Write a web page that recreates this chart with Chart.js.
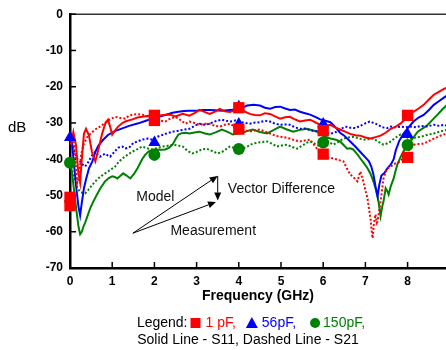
<!DOCTYPE html>
<html><head><meta charset="utf-8">
<script src="https://cdn.jsdelivr.net/npm/chart.js@4/dist/chart.umd.min.js"></script>
<style>html,body{margin:0;padding:0;background:#fff;overflow:hidden}</style>
</head><body>
<canvas id="c" width="446" height="350"></canvas>
<script>
// ---- data: [frequency GHz, dB] ----
const s11_1pF = [[0.02,-36],[0.08,-32.5],[0.14,-36],[0.2,-44],[0.24,-46.5],[0.28,-40],[0.33,-33],[0.38,-31.6],[0.45,-33.5],[0.52,-38],[0.6,-40.6],[0.68,-37],[0.76,-33],[0.84,-30],[0.9,-29.1],[0.95,-31],[1.0,-33.2],[1.07,-32],[1.14,-31],[1.24,-30],[1.31,-29.6],[1.48,-29],[1.6,-28.5],[1.71,-28.3],[1.85,-28],[2.0,-28.3],[2.2,-27.8],[2.36,-27.7],[2.5,-28.2],[2.67,-27.5],[2.83,-28],[2.95,-27.3],[3.07,-26.4],[3.2,-27],[3.31,-27.5],[3.45,-26.8],[3.55,-26.1],[3.67,-26.8],[3.79,-27],[3.9,-26.5],[4.02,-26.4],[4.15,-26.9],[4.26,-27.5],[4.38,-27.8],[4.5,-27.9],[4.62,-27.3],[4.74,-27.5],[4.86,-28.2],[4.98,-28.8],[5.1,-28.4],[5.21,-28.3],[5.33,-29],[5.45,-29.6],[5.57,-29.3],[5.69,-29.1],[5.81,-29.8],[5.93,-30.5],[6.05,-30.8],[6.17,-30.5],[6.28,-31.2],[6.4,-31.8],[6.52,-32.4],[6.64,-33],[6.76,-33.4],[6.88,-33.5],[7.0,-34],[7.12,-34.3],[7.24,-33.9],[7.36,-33.5],[7.48,-32.7],[7.6,-31.6],[7.72,-31],[7.83,-30.2],[7.92,-29.2],[8.0,-27.7],[8.07,-27.2],[8.14,-26.9],[8.26,-26],[8.38,-25],[8.5,-23.6],[8.62,-22.2],[8.74,-21.4],[8.86,-20.6],[8.95,-20.2]];
const s21_1pF = [[0.02,-33],[0.07,-34],[0.12,-39],[0.17,-46.5],[0.21,-45],[0.26,-39],[0.32,-36],[0.4,-34],[0.5,-32.8],[0.6,-31.8],[0.71,-31],[0.83,-30],[0.95,-29],[1.07,-28.3],[1.19,-28.6],[1.31,-28.8],[1.4,-28],[1.48,-27.7],[1.6,-27.6],[1.71,-27.7],[1.83,-28.2],[1.95,-28.8],[2.1,-29.3],[2.26,-29.6],[2.38,-28.8],[2.5,-28.3],[2.62,-29.2],[2.74,-30.2],[2.83,-29.6],[2.95,-30],[3.07,-30.5],[3.2,-30.2],[3.31,-30.2],[3.43,-30.8],[3.55,-31],[3.67,-30.5],[3.79,-30.2],[3.9,-31],[4.02,-31.6],[4.14,-32],[4.26,-32.4],[4.38,-32],[4.5,-31.8],[4.62,-32.4],[4.74,-32.9],[4.86,-33.5],[4.98,-33.8],[5.1,-34],[5.21,-34.3],[5.33,-34.8],[5.45,-35.1],[5.57,-34.8],[5.69,-34.6],[5.78,-36],[5.88,-37.5],[6.0,-39.3],[6.12,-39.5],[6.24,-39.8],[6.36,-40.2],[6.48,-40.6],[6.56,-42.5],[6.64,-44.2],[6.72,-45],[6.81,-46.1],[6.88,-43.4],[6.95,-46.1],[7.0,-48.5],[7.05,-50.8],[7.09,-54],[7.12,-56.3],[7.15,-60],[7.17,-61.8],[7.2,-58],[7.24,-55.2],[7.27,-57.5],[7.29,-57.1],[7.33,-54],[7.36,-51.6],[7.4,-48],[7.43,-45.3],[7.48,-43.5],[7.52,-42.5],[7.6,-42],[7.67,-41.4],[7.75,-41],[7.83,-40.6],[7.92,-39.2],[8.0,-37.9],[8.07,-37],[8.14,-36],[8.26,-35.8],[8.38,-35.7],[8.5,-35],[8.62,-34.3],[8.78,-33.5],[8.95,-32.8]];
const s11_56pF = [[0,-32.5],[0.05,-36],[0.1,-42],[0.15,-48],[0.2,-53],[0.24,-55.5],[0.28,-52],[0.33,-48],[0.38,-45.5],[0.45,-42.5],[0.53,-40.6],[0.6,-38],[0.67,-36.3],[0.78,-34.7],[0.9,-33.3],[1.05,-32.3],[1.24,-31.5],[1.4,-30.8],[1.62,-30.1],[1.8,-29.4],[1.95,-28.8],[2.1,-28.3],[2.26,-27.8],[2.43,-27.2],[2.57,-26.9],[2.7,-26.7],[2.83,-26.6],[3.0,-26.6],[3.15,-26.4],[3.3,-26.4],[3.45,-26.5],[3.6,-26.6],[3.79,-26.4],[3.95,-26.3],[4.05,-26],[4.2,-25.2],[4.35,-25],[4.5,-25.2],[4.62,-25.8],[4.74,-26.1],[4.86,-25.6],[4.98,-25.5],[5.1,-26],[5.21,-26.4],[5.33,-26.3],[5.45,-26.9],[5.57,-27.3],[5.69,-27.7],[5.81,-28.3],[5.93,-29],[6.05,-29.4],[6.17,-29.8],[6.3,-31.3],[6.4,-32.7],[6.5,-33.5],[6.64,-35.1],[6.76,-36.5],[6.88,-38],[7.0,-39.5],[7.08,-40.5],[7.14,-42],[7.19,-44.2],[7.24,-47.5],[7.29,-50.2],[7.33,-47],[7.38,-44.5],[7.45,-43.8],[7.52,-42.5],[7.6,-41.5],[7.67,-40],[7.72,-37.5],[7.8,-35],[7.9,-33],[8.0,-31.5],[8.14,-29.6],[8.26,-28.5],[8.38,-27.8],[8.5,-26.5],[8.62,-25],[8.74,-24],[8.86,-23],[8.95,-22.3]];
const s21_56pF = [[0,-34.5],[0.06,-36],[0.12,-38.5],[0.18,-40],[0.24,-40.6],[0.3,-41.5],[0.36,-42],[0.42,-41],[0.48,-39.8],[0.55,-38.5],[0.6,-38],[0.66,-38.8],[0.71,-39.3],[0.78,-38.8],[0.83,-38.5],[0.9,-39],[0.95,-39.3],[1.05,-38],[1.14,-36.8],[1.24,-36.5],[1.31,-37],[1.4,-36.8],[1.5,-35.5],[1.6,-35.1],[1.71,-34.6],[1.83,-34.3],[1.95,-34.6],[2.07,-33.8],[2.19,-33.3],[2.31,-32.8],[2.43,-32.4],[2.55,-32.2],[2.67,-31.9],[2.83,-31.6],[2.95,-30.8],[3.07,-30.2],[3.2,-30.5],[3.31,-30.2],[3.45,-29.5],[3.6,-29.1],[3.7,-29.4],[3.8,-29.6],[3.92,-29.3],[4.02,-29.6],[4.14,-30],[4.26,-30.2],[4.38,-29.9],[4.5,-29.8],[4.62,-29.4],[4.74,-29.6],[4.86,-30.2],[4.98,-30.5],[5.1,-30.4],[5.21,-30.5],[5.33,-31.2],[5.45,-31.6],[5.57,-31.5],[5.69,-32],[5.81,-32.2],[5.93,-32.4],[6.05,-32.8],[6.17,-33],[6.3,-32.5],[6.4,-31.8],[6.52,-31],[6.64,-31.3],[6.76,-31.4],[6.88,-30.8],[7.0,-30.1],[7.1,-29.6],[7.2,-30],[7.3,-30.5],[7.4,-31.2],[7.52,-31.4],[7.6,-31],[7.7,-31.2],[7.83,-31],[7.95,-31.2],[8.07,-31],[8.2,-31.2],[8.31,-30.8],[8.45,-31],[8.62,-30.5],[8.75,-30.8],[8.86,-30.5],[8.95,-30.8]];
const s11_150pF = [[0,-40],[0.05,-44],[0.1,-49],[0.15,-54],[0.2,-58.5],[0.24,-60.7],[0.28,-60],[0.32,-58.5],[0.36,-57.5],[0.42,-55.5],[0.48,-53.5],[0.56,-51.5],[0.64,-49.7],[0.72,-48],[0.83,-46.1],[0.92,-45.2],[1.0,-44.7],[1.06,-44.9],[1.12,-45.3],[1.19,-44.6],[1.26,-43.9],[1.34,-44.5],[1.43,-45.3],[1.52,-44],[1.6,-42.5],[1.71,-40],[1.78,-38.8],[1.86,-37.9],[1.95,-37.4],[2.02,-37.3],[2.14,-37.4],[2.26,-37.3],[2.35,-36.8],[2.43,-36],[2.5,-34.5],[2.57,-33.2],[2.65,-32.8],[2.74,-32.7],[2.83,-32.9],[2.95,-32.6],[3.07,-32.4],[3.2,-32.9],[3.31,-33.2],[3.45,-32.6],[3.6,-31.8],[3.72,-32.4],[3.86,-33.2],[3.98,-32.9],[4.1,-32.7],[4.2,-32.2],[4.33,-31.8],[4.5,-32.5],[4.67,-32.9],[4.82,-32],[4.98,-31],[5.14,-31.8],[5.29,-32.4],[5.45,-31.9],[5.62,-31.6],[5.74,-32],[5.86,-32.4],[5.93,-33.2],[6.05,-33.8],[6.17,-34.3],[6.3,-34.6],[6.4,-35.1],[6.5,-36.3],[6.57,-37.1],[6.64,-37],[6.71,-37.3],[6.8,-38.5],[6.88,-39.8],[6.96,-41],[7.05,-42.5],[7.12,-44],[7.19,-46.1],[7.25,-48.5],[7.31,-51.6],[7.36,-55.7],[7.4,-53],[7.43,-51.6],[7.48,-48],[7.52,-48.8],[7.55,-49.7],[7.6,-47.5],[7.67,-45.3],[7.72,-43],[7.76,-41.4],[7.83,-39.5],[7.9,-37.9],[7.98,-36.5],[8.07,-35.1],[8.15,-33.8],[8.24,-32.4],[8.36,-31.5],[8.48,-30.5],[8.6,-29],[8.71,-27.7],[8.82,-26.3],[8.95,-24.8]];
const s21_150pF = [[0,-41],[0.06,-43.5],[0.12,-46],[0.18,-48],[0.24,-49],[0.3,-49.3],[0.36,-49.4],[0.43,-48.5],[0.5,-47.5],[0.6,-46.1],[0.7,-45],[0.83,-43.9],[0.95,-43],[1.07,-42],[1.15,-40.8],[1.24,-39.8],[1.36,-38.8],[1.48,-37.9],[1.6,-37.2],[1.71,-36.5],[1.83,-37],[1.95,-37.3],[2.07,-36.9],[2.19,-36.5],[2.31,-36.3],[2.43,-36],[2.55,-36.2],[2.67,-36.5],[2.8,-37.8],[2.9,-38.4],[3.0,-38],[3.12,-37.3],[3.24,-37.1],[3.38,-37.8],[3.5,-38.4],[3.6,-38],[3.7,-37.2],[3.79,-36.5],[3.92,-37],[4.05,-37.3],[4.2,-36.5],[4.33,-35.7],[4.5,-35.3],[4.67,-35.1],[4.8,-35.8],[4.9,-36.5],[5.02,-36.2],[5.14,-36],[5.26,-36.6],[5.38,-37.1],[5.5,-36.3],[5.6,-35.5],[5.69,-35.1],[5.81,-35.8],[5.93,-36.5],[6.0,-35.5],[6.1,-35],[6.24,-36],[6.36,-35.2],[6.48,-34.3],[6.6,-34],[6.71,-33.8],[6.83,-34.2],[6.95,-34.6],[7.07,-34.5],[7.19,-34.3],[7.31,-35.2],[7.43,-36],[7.52,-35.6],[7.6,-35.1],[7.72,-34],[7.83,-33.2],[7.95,-33.8],[8.07,-34.3],[8.19,-34],[8.31,-33.8],[8.46,-33.3],[8.62,-32.9],[8.78,-32.3],[8.95,-31.8]];
// model markers
const marks_1pF = [[0,-50.5],[0,-52.8],[2,-27.9],[2,-29.3],[4,-25.8],[4,-31.7],[6,-32.1],[6,-38.6],[8,-27.9],[8,-39.5]];
const marks_56pF = [[0,-34],[2,-35.4],[4,-25.5],[4,-30.3],[6,-30.3],[8,-33.2]];
const marks_150pF = [[0,-41],[2,-38.8],[4,-37.2],[6,-35.4],[8,-36.1]];
// axes
const xTicks = [0,1,2,3,4,5,6,7,8];
const yTicks = [0,-10,-20,-30,-40,-50,-60,-70];

const RED = '#ff0000', BLUE = '#0000ff', GREEN = '#008000';
const FONT = "'Liberation Sans', Arial, sans-serif";
Chart.defaults.font.family = FONT;
const pts = a => a.map(([x, y]) => ({x, y}));

function lineDs(data, color, dashed, order) {
  return {type:'line', data: pts(data), borderColor: color, borderWidth: 2,
    borderDash: dashed ? [2, 2] : [], pointRadius: 0, tension: 0, fill: false, order};
}
function markDs(data, color, style, r) {
  return {type:'line', data: pts(data), showLine: false, pointStyle: style, pointRadius: r,
    pointHoverRadius: r, backgroundColor: color, borderColor: color, pointBorderWidth: 0,
    borderWidth: 0, clip: false, order: 0};
}

const decor = {
  id: 'decor',
  beforeDatasetsDraw(chart) {
    const {ctx, chartArea: a, scales: {x, y}} = chart;
    ctx.save();
    ctx.strokeStyle = '#333'; ctx.lineWidth = 1.5;
    ctx.beginPath(); ctx.moveTo(a.left, a.top); ctx.lineTo(a.right, a.top); ctx.stroke();
    ctx.strokeStyle = '#000'; ctx.lineWidth = 1.5;
    xTicks.forEach(v => { const p = x.getPixelForValue(v);
      ctx.beginPath(); ctx.moveTo(p, a.bottom); ctx.lineTo(p, a.bottom - 6); ctx.stroke(); });
    yTicks.forEach(v => { const p = y.getPixelForValue(v);
      ctx.beginPath(); ctx.moveTo(a.left, p); ctx.lineTo(a.left + 6, p); ctx.stroke(); });
    ctx.restore();
  },
  afterDraw(chart) {
    const {ctx, chartArea: a, scales: {x, y}} = chart;
    const X = v => x.getPixelForValue(v), Y = v => y.getPixelForValue(v);
    ctx.save();
    // y unit
    ctx.fillStyle = '#000'; ctx.textBaseline = 'middle'; ctx.textAlign = 'left';
    ctx.font = '15px ' + FONT;
    ctx.fillText('dB', 8, 128);
    // annotations
    ctx.fillStyle = '#111'; ctx.font = '14px ' + FONT;
    ctx.fillText('Model', X(1.57), Y(-50.5));
    ctx.fillText('Vector Difference', X(3.74), Y(-48.3));
    ctx.fillText('Measurement', X(2.38), Y(-59.8));
    function arrow(x0, y0, x1, y1) {
      const p0 = [X(x0), Y(y0)], p1 = [X(x1), Y(y1)];
      const ang = Math.atan2(p1[1] - p0[1], p1[0] - p0[0]);
      const L = 8, W = 3.5;
      const bx = p1[0] - L * Math.cos(ang), by = p1[1] - L * Math.sin(ang);
      ctx.strokeStyle = '#000'; ctx.fillStyle = '#000'; ctx.lineWidth = 1;
      ctx.beginPath(); ctx.moveTo(p0[0], p0[1]); ctx.lineTo(bx, by); ctx.stroke();
      ctx.beginPath(); ctx.moveTo(p1[0], p1[1]);
      ctx.lineTo(bx + W * Math.sin(ang), by - W * Math.cos(ang));
      ctx.lineTo(bx - W * Math.sin(ang), by + W * Math.cos(ang));
      ctx.closePath(); ctx.fill();
    }
    arrow(1.49, -60.4, 3.5, -44.6);
    arrow(1.49, -60.4, 3.46, -51.8);
    arrow(3.5, -44.6, 3.5, -51.4);
    // legend
    ctx.font = '14px ' + FONT; ctx.textBaseline = 'middle';
    const items = [
      {t: 'Legend:', c: '#000', gap: 3},
      {sym: 'rect', c: RED, w: 10, gap: 5},
      {t: '1 pF,', c: RED, gap: 10},
      {sym: 'tri', c: BLUE, w: 12, gap: 4},
      {t: '56pF,', c: BLUE, gap: 14},
      {sym: 'circ', c: GREEN, w: 10, gap: 3},
      {t: '150pF,', c: GREEN, gap: 0}
    ];
    let total = 0;
    items.forEach(it => { it.width = it.t ? ctx.measureText(it.t).width : it.w; total += it.width + it.gap; });
    let cx = 251 - total / 2; const ly = 323;
    items.forEach(it => {
      ctx.fillStyle = it.c;
      if (it.t) { ctx.fillText(it.t, cx, ly); }
      else if (it.sym === 'rect') { ctx.fillRect(cx, ly - 5, 10, 10); }
      else if (it.sym === 'tri') { ctx.beginPath(); ctx.moveTo(cx + 6, ly - 6); ctx.lineTo(cx + 12, ly + 5); ctx.lineTo(cx, ly + 5); ctx.closePath(); ctx.fill(); }
      else { ctx.beginPath(); ctx.arc(cx + 5, ly, 5, 0, Math.PI * 2); ctx.fill(); }
      cx += it.width + it.gap;
    });
    ctx.fillStyle = '#000'; ctx.textAlign = 'center';
    ctx.fillText('Solid Line - S11, Dashed Line - S21', 248, 340);
    ctx.restore();
  }
};

new Chart(document.getElementById('c'), {
  type: 'line',
  data: { datasets: [
    markDs(marks_1pF, RED, 'rect', 8),
    markDs(marks_56pF, BLUE, 'triangle', 7),
    markDs(marks_150pF, GREEN, 'circle', 6),
    lineDs(s11_1pF, RED, false, 1),
    lineDs(s21_1pF, RED, true, 2),
    lineDs(s11_56pF, BLUE, false, 3),
    lineDs(s21_56pF, BLUE, true, 4),
    lineDs(s11_150pF, GREEN, false, 5),
    lineDs(s21_150pF, GREEN, true, 6)
  ]},
  options: {
    responsive: false, animation: false, devicePixelRatio: 1,
    layout: {autoPadding: false, padding: {top: 13, bottom: 45, left: 0, right: 0}},
    plugins: {legend: {display: false}, tooltip: {enabled: false}},
    scales: {
      x: {type: 'linear', min: 0, max: 8.91,
        afterBuildTicks: s => { s.ticks = xTicks.map(v => ({value: v})); },
        afterFit: s => { s.height = 37; s.paddingLeft = 0; s.paddingRight = 0; },
        grid: {drawOnChartArea: false, drawTicks: false},
        border: {display: true, color: '#000', width: 2.5},
        ticks: {color: '#000', padding: 6, font: {size: 12, weight: 'bold'}, maxRotation: 0},
        title: {display: true, text: 'Frequency (GHz)', color: '#000', font: {size: 14, weight: 'bold'}, padding: {top: 0, bottom: 0}}
      },
      y: {type: 'linear', min: -70, max: 0,
        afterBuildTicks: s => { s.ticks = yTicks.slice().reverse().map(v => ({value: v})); },
        afterFit: s => { s.width = 70; },
        grid: {drawOnChartArea: false, drawTicks: false},
        border: {display: true, color: '#000', width: 2.5},
        ticks: {color: '#000', padding: 7, font: {size: 12, weight: 'bold'}}
      }
    }
  },
  plugins: [decor]
});
</script>
</body></html>
